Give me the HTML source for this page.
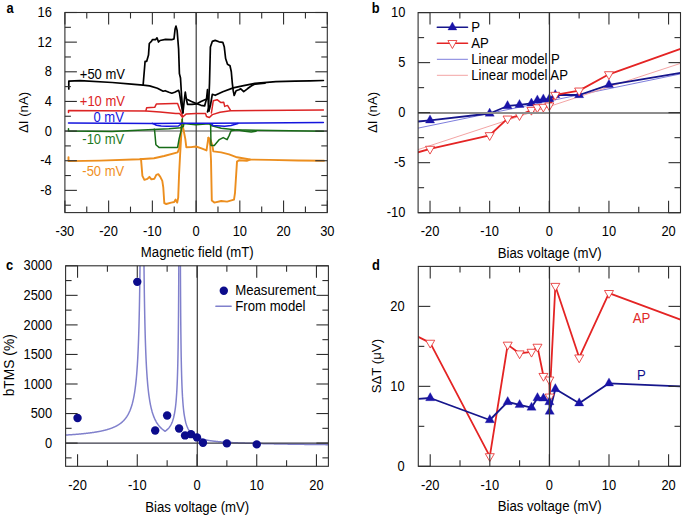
<!DOCTYPE html>
<html><head><meta charset="utf-8"><style>
html,body{margin:0;padding:0;background:#fff;}
svg{display:block;}
</style></head><body>
<svg width="685" height="518" viewBox="0 0 685 518" font-family='"Liberation Sans", sans-serif'>
<rect width="685" height="518" fill="#fff"/>
<defs>
<clipPath id="ca"><rect x="64.9" y="12.5" width="262.4" height="200.1"/></clipPath>
<clipPath id="cb"><rect x="418.1" y="12.6" width="262.4" height="200.1"/></clipPath>
<clipPath id="cc"><rect x="65.6" y="265.8" width="262.8" height="200.5"/></clipPath>
<clipPath id="cd"><rect x="418.3" y="266.4" width="262.2" height="199.9"/></clipPath>
</defs>
<line x1="64.9" y1="131" x2="327.3" y2="131" stroke="#8c8c8c" stroke-width="1.7"/>
<line x1="196.2" y1="12.5" x2="196.2" y2="212.6" stroke="#3a3a3a" stroke-width="1.2"/>
<g clip-path="url(#ca)">
<polyline points="68.5,157.1 68.5,161.1 100,160.6 139.4,159.3 154,158.3 164.1,156 177.6,152.3 179.1,148.6 180.5,138 182,119.6 183.4,129.3 185.3,138.9 186.3,147.2 191.1,147.1 196,146.5 201.5,148.4 206.5,150.4 208.4,137.6 210.4,139.6 212.4,145.5 213.3,151.4 221.2,152.4 229.1,154.3 237,157.3 250,159.5 269.3,159.9 298,160.5 324,160.8" fill="none" stroke="#ec8e1e" stroke-width="1.9" stroke-linejoin="round" stroke-linecap="round" />
<polyline points="141,158.9 142.4,175.8 144.4,179.8 147.4,178.8 149.4,176.8 151.4,179.4 154.3,178.8 156.3,174.8 158.3,174.2 160.3,176.8 162.3,180.8 163.3,187.7 164.3,203.2 166.2,204 171.2,202.6 174.2,202 175.6,199.6 177.2,202.6 178.2,197.6 179.1,173.8 180.1,155 181,140 182,119.6" fill="none" stroke="#ec8e1e" stroke-width="1.9" stroke-linejoin="round" stroke-linecap="round" />
<polyline points="208.4,137.6 210.2,145 211,160 211.8,200.6 214.3,202.6 221.2,201 227.1,201.6 234,199.7 235,192.8 237,161.6 239,160.2 246.8,160.8 250,159.6" fill="none" stroke="#ec8e1e" stroke-width="1.9" stroke-linejoin="round" stroke-linecap="round" />
<polyline points="68.5,128.8 68.5,131.1 112.2,131.4 153.1,129.6 168.9,128.8 180.5,127.8 183.4,126.4 183.8,123.6 195.6,124.8 209.4,123.8 211,125.5 221.2,128.3 235,129.7 256.9,130.3 290,130.8 323.4,131.2" fill="none" stroke="#176c17" stroke-width="1.5" stroke-linejoin="round" stroke-linecap="round" />
<polyline points="153.8,129.4 154.5,129.3 155.9,144.7 159.3,147.6 177.6,147.4 179.1,138.9 180,135.1 181.5,129.3 182.4,118.7" fill="none" stroke="#176c17" stroke-width="1.5" stroke-linejoin="round" stroke-linecap="round" />
<polyline points="210.6,123.8 210.8,133.6 211,145.5 214.3,145.5 219.3,139.6 223.2,137.6 227.1,139.6 229.1,135.6 231.1,130.7 237,129.7 244.9,131.3 251.2,132 256,131.2" fill="none" stroke="#176c17" stroke-width="1.5" stroke-linejoin="round" stroke-linecap="round" />
<polyline points="68.5,122.9 152.3,123.4 180,123.2 211,123.2 323.4,122.6" fill="none" stroke="#1515dd" stroke-width="1.5" stroke-linejoin="round" stroke-linecap="round" />
<polyline points="152.3,123.4 154.5,124.3 156.4,125.2 161.2,125.9 167,126.2 178.6,125.9 180.5,124.5" fill="none" stroke="#1515dd" stroke-width="1.5" stroke-linejoin="round" stroke-linecap="round" />
<polyline points="211.4,124 213,125.4 224.7,126.3 231,125.5 238,123.5" fill="none" stroke="#1515dd" stroke-width="1.5" stroke-linejoin="round" stroke-linecap="round" />
<polyline points="68.5,112.5 68.5,110.6 100,110.7 145.9,111 160,111.9 175.7,113.6 179.5,113.4 182.4,117.2 186.3,113.9 196,113.6 205.6,113.6 206.5,116.5 209.4,117.5 212.3,114.6 220,112.2 230.4,110.8 256.9,110.4 290,110.2 323.4,110" fill="none" stroke="#dc2424" stroke-width="1.5" stroke-linejoin="round" stroke-linecap="round" />
<polyline points="145.9,110.6 146.7,107.7 154.7,107.3 156.3,104.1 174,103.6 177.6,103.5 179.5,108.8 182.9,116.5" fill="none" stroke="#dc2424" stroke-width="1.5" stroke-linejoin="round" stroke-linecap="round" />
<polyline points="211.4,113 213.3,100.7 217.1,99.7 220.9,102.6 223.7,102.2 224.7,106.4 227.5,105.4 230.4,110.2" fill="none" stroke="#dc2424" stroke-width="1.5" stroke-linejoin="round" stroke-linecap="round" />
<polyline points="68.8,88.9 68.8,81.2 80.1,80.6 112.2,82.5 131.4,84.1 143.1,85.2 149.6,85.9 157.4,88.3 163.2,91.2 165.1,90.7 168.9,92.2 171.8,93.2 174.7,92.2 178.6,90.3 179.5,93.2 181.2,104 182.9,113.2 184.3,100.1 185.3,92.2 186.3,98.9 191.5,101.5 196.9,103.8 201,105.3 204.6,105.9 206.5,99.1 207.5,89.5 208.9,111.2 210.5,105 212.3,94.3 215.2,95.3 222.8,91.7 233.2,87.9 243.7,85.6 255,83.4 275.9,81.7 294.9,81.1 310,80.8 323.4,80.5" fill="none" stroke="#000000" stroke-width="1.7" stroke-linejoin="round" stroke-linecap="round" />
<polyline points="186.5,100 187.5,104.3 192,104.4 196.9,103.8 201,101.5 205.5,99.5" fill="none" stroke="#000000" stroke-width="1.7" stroke-linejoin="round" stroke-linecap="round" />
<polyline points="143.1,85.2 145.1,61.3 146.7,61.3 148.5,55.1 149.3,43.5 151.6,41.2 152.4,39.7 155.5,39.7 157,37.8 158.5,42 160.1,40.5 165.5,39.4 171.7,39.7 174,38.9 175.1,28.9 176,26.1 177.1,30.4 178.6,49 179.4,73.6 180.5,78 181.5,95 182.9,112.2" fill="none" stroke="#000000" stroke-width="1.7" stroke-linejoin="round" stroke-linecap="round" />
<polyline points="207.5,112 208.5,107.8 209.5,83.1 210.4,47.1 212.3,41.4 215.2,40.4 219,41.8 222.8,42.3 224.3,47.1 225.6,58.5 227.5,64.2 230,65.7 231.3,71.8 232.3,83.1 233.2,90.7 234.2,95.5 236.1,90.7 238.9,89.8 240.8,88.8 243.7,91.7 247.4,88.8 251.2,86 255,84.1 265,83.2" fill="none" stroke="#000000" stroke-width="1.7" stroke-linejoin="round" stroke-linecap="round" />
</g>
<line x1="64.9" y1="212.6" x2="64.9" y2="200.6" stroke="#2e2e2e" stroke-width="1.1"/>
<line x1="64.9" y1="12.5" x2="64.9" y2="24.5" stroke="#2e2e2e" stroke-width="1.1"/>
<line x1="108.63" y1="212.6" x2="108.63" y2="200.6" stroke="#2e2e2e" stroke-width="1.1"/>
<line x1="108.63" y1="12.5" x2="108.63" y2="24.5" stroke="#2e2e2e" stroke-width="1.1"/>
<line x1="152.37" y1="212.6" x2="152.37" y2="200.6" stroke="#2e2e2e" stroke-width="1.1"/>
<line x1="152.37" y1="12.5" x2="152.37" y2="24.5" stroke="#2e2e2e" stroke-width="1.1"/>
<line x1="196.1" y1="212.6" x2="196.1" y2="200.6" stroke="#2e2e2e" stroke-width="1.1"/>
<line x1="196.1" y1="12.5" x2="196.1" y2="24.5" stroke="#2e2e2e" stroke-width="1.1"/>
<line x1="239.83" y1="212.6" x2="239.83" y2="200.6" stroke="#2e2e2e" stroke-width="1.1"/>
<line x1="239.83" y1="12.5" x2="239.83" y2="24.5" stroke="#2e2e2e" stroke-width="1.1"/>
<line x1="283.57" y1="212.6" x2="283.57" y2="200.6" stroke="#2e2e2e" stroke-width="1.1"/>
<line x1="283.57" y1="12.5" x2="283.57" y2="24.5" stroke="#2e2e2e" stroke-width="1.1"/>
<line x1="327.3" y1="212.6" x2="327.3" y2="200.6" stroke="#2e2e2e" stroke-width="1.1"/>
<line x1="327.3" y1="12.5" x2="327.3" y2="24.5" stroke="#2e2e2e" stroke-width="1.1"/>
<line x1="86.77" y1="212.6" x2="86.77" y2="206.6" stroke="#2e2e2e" stroke-width="1.1"/>
<line x1="86.77" y1="12.5" x2="86.77" y2="18.5" stroke="#2e2e2e" stroke-width="1.1"/>
<line x1="130.5" y1="212.6" x2="130.5" y2="206.6" stroke="#2e2e2e" stroke-width="1.1"/>
<line x1="130.5" y1="12.5" x2="130.5" y2="18.5" stroke="#2e2e2e" stroke-width="1.1"/>
<line x1="174.23" y1="212.6" x2="174.23" y2="206.6" stroke="#2e2e2e" stroke-width="1.1"/>
<line x1="174.23" y1="12.5" x2="174.23" y2="18.5" stroke="#2e2e2e" stroke-width="1.1"/>
<line x1="217.97" y1="212.6" x2="217.97" y2="206.6" stroke="#2e2e2e" stroke-width="1.1"/>
<line x1="217.97" y1="12.5" x2="217.97" y2="18.5" stroke="#2e2e2e" stroke-width="1.1"/>
<line x1="261.7" y1="212.6" x2="261.7" y2="206.6" stroke="#2e2e2e" stroke-width="1.1"/>
<line x1="261.7" y1="12.5" x2="261.7" y2="18.5" stroke="#2e2e2e" stroke-width="1.1"/>
<line x1="305.43" y1="212.6" x2="305.43" y2="206.6" stroke="#2e2e2e" stroke-width="1.1"/>
<line x1="305.43" y1="12.5" x2="305.43" y2="18.5" stroke="#2e2e2e" stroke-width="1.1"/>
<line x1="64.9" y1="190.37" x2="76.9" y2="190.37" stroke="#2e2e2e" stroke-width="1.1"/>
<line x1="327.3" y1="190.37" x2="315.3" y2="190.37" stroke="#2e2e2e" stroke-width="1.1"/>
<line x1="64.9" y1="160.72" x2="76.9" y2="160.72" stroke="#2e2e2e" stroke-width="1.1"/>
<line x1="327.3" y1="160.72" x2="315.3" y2="160.72" stroke="#2e2e2e" stroke-width="1.1"/>
<line x1="64.9" y1="131.08" x2="76.9" y2="131.08" stroke="#2e2e2e" stroke-width="1.1"/>
<line x1="327.3" y1="131.08" x2="315.3" y2="131.08" stroke="#2e2e2e" stroke-width="1.1"/>
<line x1="64.9" y1="101.43" x2="76.9" y2="101.43" stroke="#2e2e2e" stroke-width="1.1"/>
<line x1="327.3" y1="101.43" x2="315.3" y2="101.43" stroke="#2e2e2e" stroke-width="1.1"/>
<line x1="64.9" y1="71.79" x2="76.9" y2="71.79" stroke="#2e2e2e" stroke-width="1.1"/>
<line x1="327.3" y1="71.79" x2="315.3" y2="71.79" stroke="#2e2e2e" stroke-width="1.1"/>
<line x1="64.9" y1="42.14" x2="76.9" y2="42.14" stroke="#2e2e2e" stroke-width="1.1"/>
<line x1="327.3" y1="42.14" x2="315.3" y2="42.14" stroke="#2e2e2e" stroke-width="1.1"/>
<line x1="64.9" y1="12.5" x2="76.9" y2="12.5" stroke="#2e2e2e" stroke-width="1.1"/>
<line x1="327.3" y1="12.5" x2="315.3" y2="12.5" stroke="#2e2e2e" stroke-width="1.1"/>
<line x1="64.9" y1="205.19" x2="70.9" y2="205.19" stroke="#2e2e2e" stroke-width="1.1"/>
<line x1="327.3" y1="205.19" x2="321.3" y2="205.19" stroke="#2e2e2e" stroke-width="1.1"/>
<line x1="64.9" y1="175.54" x2="70.9" y2="175.54" stroke="#2e2e2e" stroke-width="1.1"/>
<line x1="327.3" y1="175.54" x2="321.3" y2="175.54" stroke="#2e2e2e" stroke-width="1.1"/>
<line x1="64.9" y1="145.9" x2="70.9" y2="145.9" stroke="#2e2e2e" stroke-width="1.1"/>
<line x1="327.3" y1="145.9" x2="321.3" y2="145.9" stroke="#2e2e2e" stroke-width="1.1"/>
<line x1="64.9" y1="116.26" x2="70.9" y2="116.26" stroke="#2e2e2e" stroke-width="1.1"/>
<line x1="327.3" y1="116.26" x2="321.3" y2="116.26" stroke="#2e2e2e" stroke-width="1.1"/>
<line x1="64.9" y1="86.61" x2="70.9" y2="86.61" stroke="#2e2e2e" stroke-width="1.1"/>
<line x1="327.3" y1="86.61" x2="321.3" y2="86.61" stroke="#2e2e2e" stroke-width="1.1"/>
<line x1="64.9" y1="56.97" x2="70.9" y2="56.97" stroke="#2e2e2e" stroke-width="1.1"/>
<line x1="327.3" y1="56.97" x2="321.3" y2="56.97" stroke="#2e2e2e" stroke-width="1.1"/>
<line x1="64.9" y1="27.32" x2="70.9" y2="27.32" stroke="#2e2e2e" stroke-width="1.1"/>
<line x1="327.3" y1="27.32" x2="321.3" y2="27.32" stroke="#2e2e2e" stroke-width="1.1"/>
<rect x="64.9" y="12.5" width="262.4" height="200.1" fill="none" stroke="#2e2e2e" stroke-width="1.1"/>
<text transform="translate(64.9 236.3) scale(1 1.07)" font-size="12.9" text-anchor="middle" fill="#000" font-weight="normal">-30</text>
<text transform="translate(108.63 236.3) scale(1 1.07)" font-size="12.9" text-anchor="middle" fill="#000" font-weight="normal">-20</text>
<text transform="translate(152.37 236.3) scale(1 1.07)" font-size="12.9" text-anchor="middle" fill="#000" font-weight="normal">-10</text>
<text transform="translate(196.1 236.3) scale(1 1.07)" font-size="12.9" text-anchor="middle" fill="#000" font-weight="normal">0</text>
<text transform="translate(239.83 236.3) scale(1 1.07)" font-size="12.9" text-anchor="middle" fill="#000" font-weight="normal">10</text>
<text transform="translate(283.57 236.3) scale(1 1.07)" font-size="12.9" text-anchor="middle" fill="#000" font-weight="normal">20</text>
<text transform="translate(327.3 236.3) scale(1 1.07)" font-size="12.9" text-anchor="middle" fill="#000" font-weight="normal">30</text>
<text transform="translate(51.8 194.97) scale(1 1.07)" font-size="12.9" text-anchor="end" fill="#000" font-weight="normal">-8</text>
<text transform="translate(51.8 165.32) scale(1 1.07)" font-size="12.9" text-anchor="end" fill="#000" font-weight="normal">-4</text>
<text transform="translate(51.8 135.68) scale(1 1.07)" font-size="12.9" text-anchor="end" fill="#000" font-weight="normal">0</text>
<text transform="translate(51.8 106.03) scale(1 1.07)" font-size="12.9" text-anchor="end" fill="#000" font-weight="normal">4</text>
<text transform="translate(51.8 76.39) scale(1 1.07)" font-size="12.9" text-anchor="end" fill="#000" font-weight="normal">8</text>
<text transform="translate(51.8 46.74) scale(1 1.07)" font-size="12.9" text-anchor="end" fill="#000" font-weight="normal">12</text>
<text transform="translate(51.8 17.1) scale(1 1.07)" font-size="12.9" text-anchor="end" fill="#000" font-weight="normal">16</text>
<text transform="translate(197.3 256.8) scale(1 1.07)" font-size="13.2" text-anchor="middle" fill="#000" font-weight="normal">Magnetic field (mT)</text>
<text x="28.3" y="112.4" font-size="13.2" text-anchor="middle" fill="#000" font-weight="normal" transform="rotate(-90 28.3 112.4)">ΔI (nA)</text>
<text transform="translate(79.8 79) scale(1 1.07)" font-size="13.0" text-anchor="start" fill="#000" font-weight="normal">+50 mV</text>
<text transform="translate(79.8 105.6) scale(1 1.07)" font-size="13.0" text-anchor="start" fill="#dc2424" font-weight="normal">+10 mV</text>
<text transform="translate(93.5 121.8) scale(1 1.07)" font-size="13.0" text-anchor="start" fill="#1515dd" font-weight="normal">0 mV</text>
<text transform="translate(82.3 143.9) scale(1 1.07)" font-size="13.0" text-anchor="start" fill="#1e7a1e" font-weight="normal">-10 mV</text>
<text transform="translate(82.3 175.8) scale(1 1.07)" font-size="13.0" text-anchor="start" fill="#f0901e" font-weight="normal">-50 mV</text>
<text transform="translate(6.5 13) scale(1 1.11)" font-size="12.9" text-anchor="start" fill="#000" font-weight="bold">a</text>
<g clip-path="url(#cb)">
<polyline points="412.14,129.35 686.46,72.7" fill="none" stroke="#6e6ed8" stroke-width="0.9" stroke-linejoin="round" stroke-linecap="round" />
<polyline points="412.14,151.53 686.46,61.42" fill="none" stroke="#f29a9a" stroke-width="0.9" stroke-linejoin="round" stroke-linecap="round" />
<polyline points="418.1,121.5 430.03,120.3 489.66,113.5 507.55,106 519.48,104.8 531.41,103.4 537.37,100.29 543.34,99.29 549.3,99.09 555.26,94.99 579.12,94.99 608.94,84.79 680.5,72.83" fill="none" stroke="#16168c" stroke-width="1.8" stroke-linejoin="round" stroke-linecap="round" />
<polyline points="418.1,152.27 430.03,148.87 489.66,135.26 507.55,118.65 519.48,115.25 531.41,109.95 537.37,107.35 543.34,106.85 549.3,105.55 555.26,94.94 579.12,90.64 608.94,74.33 680.5,48.92" fill="none" stroke="#e42424" stroke-width="1.8" stroke-linejoin="round" stroke-linecap="round" />
<polygon points="425.43,123 434.63,123 430.03,114.9" fill="#1a14a8" stroke="#1a14a8" stroke-width="0.3"/>
<polygon points="485.06,116.2 494.26,116.2 489.66,108.1" fill="#1a14a8" stroke="#1a14a8" stroke-width="0.3"/>
<polygon points="502.95,108.7 512.15,108.7 507.55,100.6" fill="#1a14a8" stroke="#1a14a8" stroke-width="0.3"/>
<polygon points="514.88,107.5 524.08,107.5 519.48,99.4" fill="#1a14a8" stroke="#1a14a8" stroke-width="0.3"/>
<polygon points="526.81,106.1 536.01,106.1 531.41,98" fill="#1a14a8" stroke="#1a14a8" stroke-width="0.3"/>
<polygon points="532.77,102.99 541.97,102.99 537.37,94.89" fill="#1a14a8" stroke="#1a14a8" stroke-width="0.3"/>
<polygon points="538.74,101.99 547.94,101.99 543.34,93.89" fill="#1a14a8" stroke="#1a14a8" stroke-width="0.3"/>
<polygon points="544.7,101.79 553.9,101.79 549.3,93.69" fill="#1a14a8" stroke="#1a14a8" stroke-width="0.3"/>
<polygon points="550.66,97.69 559.86,97.69 555.26,89.59" fill="#1a14a8" stroke="#1a14a8" stroke-width="0.3"/>
<polygon points="574.52,97.69 583.72,97.69 579.12,89.59" fill="#1a14a8" stroke="#1a14a8" stroke-width="0.3"/>
<polygon points="604.34,87.49 613.54,87.49 608.94,79.39" fill="#1a14a8" stroke="#1a14a8" stroke-width="0.3"/>
<polygon points="425.53,146.27 434.53,146.27 430.03,154.07" fill="#fff" stroke="#e42424" stroke-width="0.8"/>
<polygon points="485.16,132.66 494.16,132.66 489.66,140.46" fill="#fff" stroke="#e42424" stroke-width="0.8"/>
<polygon points="503.05,116.05 512.05,116.05 507.55,123.85" fill="#fff" stroke="#e42424" stroke-width="0.8"/>
<polygon points="514.98,112.65 523.98,112.65 519.48,120.45" fill="#fff" stroke="#e42424" stroke-width="0.8"/>
<polygon points="526.91,107.35 535.91,107.35 531.41,115.15" fill="#fff" stroke="#e42424" stroke-width="0.8"/>
<polygon points="532.87,104.75 541.87,104.75 537.37,112.55" fill="#fff" stroke="#e42424" stroke-width="0.8"/>
<polygon points="538.84,104.25 547.84,104.25 543.34,112.05" fill="#fff" stroke="#e42424" stroke-width="0.8"/>
<polygon points="544.8,102.95 553.8,102.95 549.3,110.75" fill="#fff" stroke="#e42424" stroke-width="0.8"/>
<polygon points="550.76,92.34 559.76,92.34 555.26,100.14" fill="#fff" stroke="#e42424" stroke-width="0.8"/>
<polygon points="574.62,88.04 583.62,88.04 579.12,95.84" fill="#fff" stroke="#e42424" stroke-width="0.8"/>
<polygon points="604.44,71.73 613.44,71.73 608.94,79.53" fill="#fff" stroke="#e42424" stroke-width="0.8"/>
</g>
<line x1="418.1" y1="113" x2="680.5" y2="113" stroke="#8c8c8c" stroke-width="1.8"/>
<line x1="549.5" y1="12.6" x2="549.5" y2="212.7" stroke="#3a3a3a" stroke-width="1.2"/>
<line x1="430.03" y1="212.7" x2="430.03" y2="200.7" stroke="#2e2e2e" stroke-width="1.1"/>
<line x1="430.03" y1="12.6" x2="430.03" y2="24.6" stroke="#2e2e2e" stroke-width="1.1"/>
<line x1="489.66" y1="212.7" x2="489.66" y2="200.7" stroke="#2e2e2e" stroke-width="1.1"/>
<line x1="489.66" y1="12.6" x2="489.66" y2="24.6" stroke="#2e2e2e" stroke-width="1.1"/>
<line x1="549.3" y1="212.7" x2="549.3" y2="200.7" stroke="#2e2e2e" stroke-width="1.1"/>
<line x1="549.3" y1="12.6" x2="549.3" y2="24.6" stroke="#2e2e2e" stroke-width="1.1"/>
<line x1="608.94" y1="212.7" x2="608.94" y2="200.7" stroke="#2e2e2e" stroke-width="1.1"/>
<line x1="608.94" y1="12.6" x2="608.94" y2="24.6" stroke="#2e2e2e" stroke-width="1.1"/>
<line x1="668.57" y1="212.7" x2="668.57" y2="200.7" stroke="#2e2e2e" stroke-width="1.1"/>
<line x1="668.57" y1="12.6" x2="668.57" y2="24.6" stroke="#2e2e2e" stroke-width="1.1"/>
<line x1="459.85" y1="212.7" x2="459.85" y2="206.7" stroke="#2e2e2e" stroke-width="1.1"/>
<line x1="459.85" y1="12.6" x2="459.85" y2="18.6" stroke="#2e2e2e" stroke-width="1.1"/>
<line x1="519.48" y1="212.7" x2="519.48" y2="206.7" stroke="#2e2e2e" stroke-width="1.1"/>
<line x1="519.48" y1="12.6" x2="519.48" y2="18.6" stroke="#2e2e2e" stroke-width="1.1"/>
<line x1="579.12" y1="212.7" x2="579.12" y2="206.7" stroke="#2e2e2e" stroke-width="1.1"/>
<line x1="579.12" y1="12.6" x2="579.12" y2="18.6" stroke="#2e2e2e" stroke-width="1.1"/>
<line x1="638.75" y1="212.7" x2="638.75" y2="206.7" stroke="#2e2e2e" stroke-width="1.1"/>
<line x1="638.75" y1="12.6" x2="638.75" y2="18.6" stroke="#2e2e2e" stroke-width="1.1"/>
<line x1="418.1" y1="212.7" x2="430.1" y2="212.7" stroke="#2e2e2e" stroke-width="1.1"/>
<line x1="680.5" y1="212.7" x2="668.5" y2="212.7" stroke="#2e2e2e" stroke-width="1.1"/>
<line x1="418.1" y1="162.67" x2="430.1" y2="162.67" stroke="#2e2e2e" stroke-width="1.1"/>
<line x1="680.5" y1="162.67" x2="668.5" y2="162.67" stroke="#2e2e2e" stroke-width="1.1"/>
<line x1="418.1" y1="112.65" x2="430.1" y2="112.65" stroke="#2e2e2e" stroke-width="1.1"/>
<line x1="680.5" y1="112.65" x2="668.5" y2="112.65" stroke="#2e2e2e" stroke-width="1.1"/>
<line x1="418.1" y1="62.62" x2="430.1" y2="62.62" stroke="#2e2e2e" stroke-width="1.1"/>
<line x1="680.5" y1="62.62" x2="668.5" y2="62.62" stroke="#2e2e2e" stroke-width="1.1"/>
<line x1="418.1" y1="12.6" x2="430.1" y2="12.6" stroke="#2e2e2e" stroke-width="1.1"/>
<line x1="680.5" y1="12.6" x2="668.5" y2="12.6" stroke="#2e2e2e" stroke-width="1.1"/>
<line x1="418.1" y1="187.69" x2="424.1" y2="187.69" stroke="#2e2e2e" stroke-width="1.1"/>
<line x1="680.5" y1="187.69" x2="674.5" y2="187.69" stroke="#2e2e2e" stroke-width="1.1"/>
<line x1="418.1" y1="137.66" x2="424.1" y2="137.66" stroke="#2e2e2e" stroke-width="1.1"/>
<line x1="680.5" y1="137.66" x2="674.5" y2="137.66" stroke="#2e2e2e" stroke-width="1.1"/>
<line x1="418.1" y1="87.64" x2="424.1" y2="87.64" stroke="#2e2e2e" stroke-width="1.1"/>
<line x1="680.5" y1="87.64" x2="674.5" y2="87.64" stroke="#2e2e2e" stroke-width="1.1"/>
<line x1="418.1" y1="37.61" x2="424.1" y2="37.61" stroke="#2e2e2e" stroke-width="1.1"/>
<line x1="680.5" y1="37.61" x2="674.5" y2="37.61" stroke="#2e2e2e" stroke-width="1.1"/>
<rect x="418.1" y="12.6" width="262.4" height="200.1" fill="none" stroke="#2e2e2e" stroke-width="1.1"/>
<text transform="translate(430.03 236.3) scale(1 1.07)" font-size="12.9" text-anchor="middle" fill="#000" font-weight="normal">-20</text>
<text transform="translate(489.66 236.3) scale(1 1.07)" font-size="12.9" text-anchor="middle" fill="#000" font-weight="normal">-10</text>
<text transform="translate(549.3 236.3) scale(1 1.07)" font-size="12.9" text-anchor="middle" fill="#000" font-weight="normal">0</text>
<text transform="translate(608.94 236.3) scale(1 1.07)" font-size="12.9" text-anchor="middle" fill="#000" font-weight="normal">10</text>
<text transform="translate(668.57 236.3) scale(1 1.07)" font-size="12.9" text-anchor="middle" fill="#000" font-weight="normal">20</text>
<text transform="translate(405.4 217.3) scale(1 1.07)" font-size="12.9" text-anchor="end" fill="#000" font-weight="normal">-10</text>
<text transform="translate(405.4 167.27) scale(1 1.07)" font-size="12.9" text-anchor="end" fill="#000" font-weight="normal">-5</text>
<text transform="translate(405.4 117.25) scale(1 1.07)" font-size="12.9" text-anchor="end" fill="#000" font-weight="normal">0</text>
<text transform="translate(405.4 67.22) scale(1 1.07)" font-size="12.9" text-anchor="end" fill="#000" font-weight="normal">5</text>
<text transform="translate(405.4 17.2) scale(1 1.07)" font-size="12.9" text-anchor="end" fill="#000" font-weight="normal">10</text>
<text transform="translate(549.7 257.7) scale(1 1.07)" font-size="13.2" text-anchor="middle" fill="#000" font-weight="normal">Bias voltage (mV)</text>
<text x="376.7" y="112.4" font-size="13.2" text-anchor="middle" fill="#000" font-weight="normal" transform="rotate(-90 376.7 112.4)">ΔI (nA)</text>
<text transform="translate(371.8 13) scale(1 1.11)" font-size="12.9" text-anchor="start" fill="#000" font-weight="bold">b</text>
<polyline points="437.3,27.3 467.5,27.3" fill="none" stroke="#16168c" stroke-width="1.6" stroke-linejoin="round" stroke-linecap="round" />
<polygon points="447.9,29.97 456.9,29.97 452.4,21.97" fill="#1a14a8" stroke="#1a14a8" stroke-width="0.3"/>
<polyline points="437.3,43.3 467.5,43.3" fill="none" stroke="#e42424" stroke-width="1.6" stroke-linejoin="round" stroke-linecap="round" />
<polygon points="447.9,40.53 456.9,40.53 452.4,48.53" fill="#fff" stroke="#e42424" stroke-width="0.8"/>
<polyline points="437.3,59.3 467.5,59.3" fill="none" stroke="#6e6ed8" stroke-width="0.9" stroke-linejoin="round" stroke-linecap="round" />
<polyline points="437.3,75.3 467.5,75.3" fill="none" stroke="#f29a9a" stroke-width="0.9" stroke-linejoin="round" stroke-linecap="round" />
<text transform="translate(471.2 31.8) scale(1 1.07)" font-size="13.2" text-anchor="start" fill="#000" font-weight="normal">P</text>
<text transform="translate(471.2 47.8) scale(1 1.07)" font-size="13.2" text-anchor="start" fill="#000" font-weight="normal">AP</text>
<text transform="translate(471.2 63.8) scale(1 1.07)" font-size="13.2" text-anchor="start" fill="#000" font-weight="normal">Linear model P</text>
<text transform="translate(471.2 79.8) scale(1 1.07)" font-size="13.2" text-anchor="start" fill="#000" font-weight="normal">Linear model AP</text>
<line x1="197.3" y1="265.8" x2="197.3" y2="466.3" stroke="#3a3a3a" stroke-width="1.2"/>
<g clip-path="url(#cc)">
<polyline points="62.61,435.23 62.91,435.22 63.21,435.2 63.51,435.18 63.81,435.16 64.11,435.15 64.41,435.13 64.7,435.11 65,435.09 65.3,435.08 65.6,435.06 65.9,435.04 66.2,435.02 66.5,435 66.79,434.99 67.09,434.97 67.39,434.95 67.69,434.93 67.99,434.91 68.29,434.89 68.59,434.87 68.89,434.85 69.18,434.83 69.48,434.81 69.78,434.79 70.08,434.77 70.38,434.75 70.68,434.73 70.98,434.71 71.27,434.69 71.57,434.67 71.87,434.65 72.17,434.63 72.47,434.61 72.77,434.58 73.07,434.56 73.36,434.54 73.66,434.52 73.96,434.49 74.26,434.47 74.56,434.45 74.86,434.43 75.16,434.4 75.46,434.38 75.75,434.36 76.05,434.33 76.35,434.31 76.65,434.28 76.95,434.26 77.25,434.23 77.55,434.21 77.84,434.18 78.14,434.16 78.44,434.13 78.74,434.11 79.04,434.08 79.34,434.05 79.64,434.03 79.93,434 80.23,433.97 80.53,433.94 80.83,433.92 81.13,433.89 81.43,433.86 81.73,433.83 82.03,433.8 82.32,433.77 82.62,433.74 82.92,433.71 83.22,433.68 83.52,433.65 83.82,433.62 84.12,433.59 84.41,433.56 84.71,433.53 85.01,433.5 85.31,433.46 85.61,433.43 85.91,433.4 86.21,433.36 86.5,433.33 86.8,433.3 87.1,433.26 87.4,433.23 87.7,433.19 88,433.15 88.3,433.12 88.6,433.08 88.89,433.05 89.19,433.01 89.49,432.97 89.79,432.93 90.09,432.89 90.39,432.85 90.69,432.81 90.98,432.77 91.28,432.73 91.58,432.69 91.88,432.65 92.18,432.61 92.48,432.57 92.78,432.52 93.07,432.48 93.37,432.44 93.67,432.39 93.97,432.35 94.27,432.3 94.57,432.26 94.87,432.21 95.17,432.16 95.46,432.11 95.76,432.06 96.06,432.02 96.36,431.97 96.66,431.91 96.96,431.86 97.26,431.81 97.55,431.76 97.85,431.71 98.15,431.65 98.45,431.6 98.75,431.54 99.05,431.48 99.35,431.43 99.64,431.37 99.94,431.31 100.24,431.25 100.54,431.19 100.84,431.13 101.14,431.07 101.44,431 101.74,430.94 102.03,430.87 102.33,430.81 102.63,430.74 102.93,430.67 103.23,430.6 103.53,430.53 103.83,430.46 104.12,430.39 104.42,430.32 104.72,430.24 105.02,430.17 105.32,430.09 105.62,430.01 105.92,429.93 106.21,429.85 106.51,429.77 106.81,429.68 107.11,429.6 107.41,429.51 107.71,429.42 108.01,429.33 108.31,429.24 108.6,429.15 108.9,429.06 109.2,428.96 109.5,428.86 109.8,428.76 110.1,428.66 110.4,428.56 110.69,428.45 110.99,428.34 111.29,428.23 111.59,428.12 111.89,428.01 112.19,427.89 112.49,427.77 112.78,427.65 113.08,427.53 113.38,427.4 113.68,427.27 113.98,427.14 114.28,427 114.58,426.87 114.88,426.73 115.17,426.58 115.47,426.44 115.77,426.29 116.07,426.13 116.37,425.97 116.67,425.81 116.97,425.65 117.26,425.48 117.56,425.31 117.86,425.13 118.16,424.95 118.46,424.76 118.76,424.57 119.06,424.38 119.35,424.17 119.65,423.97 119.95,423.76 120.25,423.54 120.55,423.31 120.85,423.08 121.15,422.85 121.45,422.6 121.74,422.35 122.04,422.09 122.34,421.83 122.64,421.55 122.94,421.27 123.24,420.98 123.54,420.68 123.83,420.37 124.13,420.05 124.43,419.71 124.73,419.37 125.03,419.01 125.33,418.65 125.63,418.26 125.92,417.87 126.22,417.46 126.52,417.03 126.82,416.59 127.12,416.12 127.42,415.64 127.72,415.14 128.02,414.62 128.31,414.08 128.61,413.51 128.91,412.92 129.21,412.29 129.51,411.64 129.81,410.96 130.11,410.24 130.4,409.49 130.7,408.69 131,407.86 131.3,406.97 131.6,406.04 131.9,405.05 132.2,404 132.49,402.89 132.79,401.7 133.09,400.44 133.39,399.08 133.69,397.64 133.99,396.08 134.29,394.4 134.59,392.59 134.88,390.63 135.18,388.5 135.48,386.18 135.78,383.63 136.08,380.83 136.38,377.73 136.68,374.29 136.97,370.45 137.27,366.12 137.3,365.75 137.32,365.38 137.34,365 137.37,364.62 137.39,364.24 137.42,363.85 137.44,363.45 137.46,363.06 137.49,362.66 137.51,362.25 137.54,361.84 137.56,361.43 137.58,361.01 137.61,360.59 137.63,360.16 137.65,359.73 137.68,359.29 137.7,358.85 137.73,358.4 137.75,357.95 137.77,357.49 137.8,357.03 137.82,356.57 137.85,356.09 137.87,355.62 137.89,355.13 137.92,354.65 137.94,354.15 137.97,353.65 137.99,353.14 138.01,352.63 138.04,352.12 138.06,351.59 138.09,351.06 138.11,350.52 138.13,349.98 138.16,349.43 138.18,348.87 138.2,348.31 138.23,347.74 138.25,347.16 138.28,346.57 138.3,345.98 138.32,345.38 138.35,344.77 138.37,344.16 138.4,343.53 138.42,342.9 138.44,342.26 138.47,341.61 138.49,340.95 138.52,340.29 138.54,339.61 138.56,338.92 138.59,338.23 138.61,337.53 138.63,336.81 138.66,336.09 138.68,335.35 138.71,334.61 138.73,333.85 138.75,333.08 138.78,332.31 138.8,331.52 138.83,330.72 138.85,329.9 138.87,329.08 138.9,328.24 138.92,327.39 138.95,326.53 138.97,325.65 138.99,324.76 139.02,323.85 139.04,322.94 139.06,322 139.09,321.05 139.11,320.09 139.14,319.11 139.16,318.11 139.18,317.1 139.21,316.07 139.23,315.02 139.26,313.96 139.28,312.87 139.3,311.77 139.33,310.65 139.35,309.51 139.38,308.35 139.4,307.16 139.42,305.96 139.45,304.73 139.47,303.48 139.49,302.21 139.52,300.91 139.54,299.59 139.57,298.24 139.59,296.87 139.61,295.47 139.64,294.04 139.66,292.59 139.69,291.1 139.71,289.59 139.73,288.04 139.76,286.46 139.78,284.85 139.81,283.2 139.83,281.52 139.85,279.8 139.88,278.04 139.9,276.25 139.92,274.41 139.95,272.53 139.97,270.61 140,268.65 140.02,266.63 140.04,264.58 140.07,262.47 140.09,260.3 140.12,258.09 140.14,255.82 140.16,253.49 140.19,251.11 140.21,248.66 140.24,246.15 140.26,243.57 140.28,240.92 140.31,238.19 140.33,235.39 140.35,232.52 140.38,229.56 140.4,226.51 140.43,223.38 140.45,220.15 140.47,216.83 140.5,213.4 140.52,209.86 140.55,206.7" fill="none" stroke="#8080cc" stroke-width="1.5" stroke-linejoin="round" stroke-linecap="round" />
<polyline points="143.53,206.7 143.53,209.33 143.56,213.1 143.58,216.75 143.6,220.28 143.63,223.71 143.65,227.04 143.68,230.26 143.7,233.4 143.72,236.44 143.75,239.4 143.77,242.28 143.79,245.08 143.82,247.8 143.84,250.45 143.87,253.03 143.89,255.54 143.91,257.99 143.94,260.38 143.96,262.71 143.99,264.98 144.01,267.19 144.03,269.35 144.06,271.46 144.08,273.52 144.11,275.53 144.13,277.5 144.15,279.42 144.18,281.3 144.2,283.13 144.22,284.93 144.25,286.68 144.27,288.4 144.3,290.09 144.32,291.73 144.34,293.35 144.37,294.92 144.39,296.47 144.42,297.99 144.44,299.47 144.46,300.93 144.49,302.36 144.51,303.76 144.54,305.13 144.56,306.48 144.58,307.8 144.61,309.09 144.63,310.37 144.66,311.62 144.68,312.84 144.7,314.05 144.73,315.23 144.75,316.39 144.77,317.53 144.8,318.66 144.82,319.76 144.85,320.84 144.87,321.91 144.89,322.95 144.92,323.98 144.94,325 144.97,325.99 144.99,326.97 145.01,327.94 145.04,328.89 145.06,329.82 145.09,330.74 145.11,331.64 145.13,332.53 145.16,333.41 145.18,334.28 145.2,335.13 145.23,335.96 145.25,336.79 145.28,337.6 145.3,338.4 145.32,339.19 145.35,339.97 145.37,340.74 145.4,341.49 145.42,342.24 145.44,342.97 145.47,343.7 145.49,344.41 145.52,345.11 145.54,345.81 145.56,346.49 145.59,347.17 145.61,347.84 145.63,348.5 145.66,349.14 145.68,349.79 145.71,350.42 145.73,351.04 145.75,351.66 145.78,352.27 145.8,352.87 145.83,353.46 145.85,354.05 145.87,354.62 145.9,355.19 145.92,355.76 145.95,356.31 145.97,356.86 145.99,357.41 146.02,357.95 146.04,358.48 146.06,359 146.09,359.52 146.11,360.03 146.14,360.54 146.16,361.04 146.18,361.53 146.21,362.02 146.23,362.5 146.26,362.98 146.28,363.45 146.3,363.92 146.33,364.38 146.35,364.84 146.38,365.29 146.4,365.73 146.42,366.18 146.45,366.61 146.47,367.04 146.49,367.47 146.52,367.89 146.54,368.31 146.57,368.73 146.59,369.14 146.61,369.54 146.64,369.94 146.66,370.34 146.69,370.73 146.71,371.12 146.73,371.51 146.76,371.89 146.78,372.26 146.81,372.64 146.83,373.01 147.13,377.33 147.43,381.18 147.72,384.62 148.02,387.71 148.32,390.51 148.62,393.06 148.92,395.39 149.22,397.52 149.52,399.48 149.82,401.29 150.11,402.96 150.41,404.52 150.71,405.97 151.01,407.32 151.31,408.59 151.61,409.77 151.91,410.89 152.2,411.94 152.5,412.92 152.8,413.86 153.1,414.74 153.4,415.58 153.7,416.37 154,417.13 154.3,417.84 154.59,418.53 154.89,419.18 155.19,419.8 155.49,420.39 155.79,420.96 156.09,421.51 156.39,422.03 156.68,422.53 156.98,423.01 157.28,423.47 157.58,423.91 157.88,424.34 158.18,424.75 158.48,425.15 158.77,425.53 159.07,425.9 159.37,426.26 159.67,426.6 159.97,426.93 160.27,427.25 160.57,427.56 160.86,427.86 161.16,428.16 161.46,428.44 161.76,428.71 162.06,428.98 162.36,429.24 162.66,429.49 162.96,429.73 163.25,429.97 163.55,430.2 163.85,430.42 164.15,430.64 164.45,430.85 164.75,431.06 165.05,431.26 165.34,431.09 165.64,430.88 165.94,430.66 166.24,430.44 166.54,430.2 166.84,429.95 167.14,429.68 167.43,429.41 167.73,429.12 168.03,428.81 168.33,428.49 168.63,428.16 168.93,427.8 169.23,427.42 169.53,427.02 169.82,426.6 170.12,426.15 170.42,425.67 170.72,425.16 171.02,424.61 171.32,424.02 171.62,423.39 171.91,422.71 172.21,421.98 172.51,421.18 172.81,420.32 173.11,419.37 173.41,418.34 173.71,417.19 174,415.93 174.3,414.53 174.6,412.96 174.9,411.19 175.2,409.18 175.5,406.88 175.8,404.22 176.1,401.11 176.39,397.42 176.69,392.98 176.72,392.59 176.74,392.19 176.76,391.78 176.79,391.36 176.81,390.94 176.84,390.51 176.86,390.08 176.88,389.63 176.91,389.18 176.93,388.72 176.96,388.25 176.98,387.78 177,387.29 177.03,386.8 177.05,386.29 177.07,385.78 177.1,385.26 177.12,384.73 177.15,384.18 177.17,383.63 177.19,383.06 177.22,382.49 177.24,381.9 177.27,381.3 177.29,380.69 177.31,380.07 177.34,379.43 177.36,378.78 177.39,378.11 177.41,377.43 177.43,376.74 177.46,376.03 177.48,375.31 177.51,374.57 177.53,373.81 177.55,373.03 177.58,372.24 177.6,371.42 177.62,370.59 177.65,369.74 177.67,368.87 177.7,367.97 177.72,367.05 177.74,366.11 177.77,365.15 177.79,364.16 177.82,363.14 177.84,362.1 177.86,361.02 177.89,359.92 177.91,358.79 177.94,357.62 177.96,356.42 177.98,355.19 178.01,353.92 178.03,352.61 178.05,351.26 178.08,349.87 178.1,348.44 178.13,346.96 178.15,345.43 178.17,343.85 178.2,342.22 178.22,340.54 178.25,338.79 178.27,336.98 178.29,335.11 178.32,333.17 178.34,331.15 178.37,329.06 178.39,326.89 178.41,324.63 178.44,322.28 178.46,319.84 178.48,317.29 178.51,314.63 178.53,311.85 178.56,308.95 178.58,305.92 178.6,302.74 178.63,299.41 178.65,295.92 178.68,292.25 178.7,288.39 178.72,284.32 178.75,280.03 178.77,275.5 178.8,270.7 178.82,265.62 178.84,260.23 178.87,254.49 178.89,248.38 178.91,241.85 178.94,234.87 178.96,227.37 178.99,219.32 179.01,210.63 179.03,206.7" fill="none" stroke="#8080cc" stroke-width="1.5" stroke-linejoin="round" stroke-linecap="round" />
<polyline points="180.23,206.7 180.23,214.98 180.25,223.67 180.28,231.72 180.3,239.22 180.32,246.2 180.35,252.73 180.37,258.84 180.4,264.58 180.42,269.97 180.44,275.05 180.47,279.85 180.49,284.38 180.52,288.67 180.54,292.74 180.56,296.6 180.59,300.27 180.61,303.77 180.63,307.09 180.66,310.27 180.68,313.31 180.71,316.21 180.73,318.98 180.75,321.64 180.78,324.19 180.8,326.64 180.83,328.98 180.85,331.24 180.87,333.41 180.9,335.51 180.92,337.52 180.95,339.46 180.97,341.33 180.99,343.14 181.02,344.89 181.04,346.57 181.06,348.21 181.09,349.78 181.11,351.31 181.14,352.79 181.16,354.23 181.18,355.62 181.21,356.96 181.23,358.27 181.26,359.54 181.28,360.78 181.3,361.97 181.33,363.14 181.35,364.27 181.38,365.37 181.4,366.45 181.42,367.49 181.45,368.51 181.47,369.5 181.49,370.46 181.52,371.4 181.54,372.32 181.57,373.22 181.59,374.09 181.61,374.94 181.64,375.78 181.66,376.59 181.69,377.38 181.71,378.16 181.73,378.92 181.76,379.66 181.78,380.38 181.81,381.09 181.83,381.79 181.85,382.46 181.88,383.13 181.9,383.78 181.92,384.42 181.95,385.04 181.97,385.65 182,386.25 182.02,386.84 182.04,387.42 182.07,387.98 182.09,388.53 182.12,389.08 182.14,389.61 182.16,390.13 182.19,390.64 182.21,391.15 182.24,391.64 182.26,392.13 182.28,392.6 182.31,393.07 182.33,393.53 182.35,393.98 182.38,394.43 182.4,394.86 182.43,395.29 182.45,395.72 182.47,396.13 182.5,396.54 182.52,396.94 182.55,397.33 182.57,397.72 182.59,398.1 182.62,398.48 182.92,402.72 183.21,406.25 183.51,409.24 183.81,411.81 184.11,414.04 184.41,415.98 184.71,417.7 185.01,419.23 185.31,420.6 185.6,421.83 185.9,422.94 186.2,423.96 186.5,424.88 186.8,425.73 187.1,426.51 187.4,427.23 187.69,427.9 187.99,428.52 188.29,429.1 188.59,429.63 188.89,430.14 189.19,430.61 189.49,431.05 189.78,431.47 190.08,431.87 190.38,432.24 190.68,432.59 190.98,432.92 191.28,433.24 191.58,433.54 191.88,433.83 192.17,434.1 192.47,434.36 192.77,434.61 193.07,434.84 193.37,435.07 193.67,435.29 193.97,435.49 194.26,435.69 194.56,435.88 194.86,436.07 195.16,436.25 195.46,436.42 195.76,436.58 196.06,436.74 196.35,436.89 196.65,437.04 196.95,437.18 197.25,437.32 197.55,437.45 197.85,437.58 198.15,437.7 198.45,437.82 198.74,437.94 199.04,438.05 199.34,438.16 199.64,438.27 199.94,438.37 200.24,438.47 200.54,438.57 200.83,438.66 201.13,438.75 201.43,438.84 201.73,438.93 202.03,439.01 202.33,439.09 202.63,439.17 202.92,439.25 203.22,439.33 203.52,439.4 203.82,439.48 204.12,439.55 204.42,439.62 204.72,439.68 205.02,439.75 205.31,439.81 205.61,439.88 205.91,439.94 206.21,440 206.51,440.06 206.81,440.11 207.11,440.17 207.4,440.22 207.7,440.28 208,440.33 208.3,440.38 208.6,440.43 208.9,440.48 209.2,440.53 209.49,440.58 209.79,440.62 210.09,440.67 210.39,440.71 210.69,440.76 210.99,440.8 211.29,440.84 211.59,440.88 211.88,440.92 212.18,440.96 212.48,441 212.78,441.04 213.08,441.08 213.38,441.12 213.68,441.15 213.97,441.19 214.27,441.22 214.57,441.26 214.87,441.29 215.17,441.33 215.47,441.36 215.77,441.39 216.06,441.42 216.36,441.45 216.66,441.49 216.96,441.52 217.26,441.55 217.56,441.57 217.86,441.6 218.16,441.63 218.45,441.66 218.75,441.69 219.05,441.71 219.35,441.74 219.65,441.77 219.95,441.79 220.25,441.82 220.54,441.84 220.84,441.87 221.14,441.89 221.44,441.92 221.74,441.94 222.04,441.97 222.34,441.99 222.63,442.01 222.93,442.03 223.23,442.06 223.53,442.08 223.83,442.1 224.13,442.12 224.43,442.14 224.73,442.16 225.02,442.18 225.32,442.2 225.62,442.22 225.92,442.24 226.22,442.26 226.52,442.28 226.82,442.3 227.11,442.32 227.41,442.34 227.71,442.36 228.01,442.37 228.31,442.39 228.61,442.41 228.91,442.43 229.2,442.44 229.5,442.46 229.8,442.48 230.1,442.49 230.4,442.51 230.7,442.53 231,442.54 231.3,442.56 231.59,442.57 231.89,442.59 232.19,442.6 232.49,442.62 232.79,442.63 233.09,442.65 233.39,442.66 233.68,442.68 233.98,442.69 234.28,442.71 234.58,442.72 234.88,442.73 235.18,442.75 235.48,442.76 235.77,442.77 236.07,442.79 236.37,442.8 236.67,442.81 236.97,442.83 237.27,442.84 237.57,442.85 237.87,442.86 238.16,442.88 238.46,442.89 238.76,442.9 239.06,442.91 239.36,442.92 239.66,442.94 239.96,442.95 240.25,442.96 240.55,442.97 240.85,442.98 241.15,442.99 241.45,443 241.75,443.01 242.05,443.03 242.34,443.04 242.64,443.05 242.94,443.06 243.24,443.07 243.54,443.08 243.84,443.09 244.14,443.1 244.44,443.11 244.73,443.12 245.03,443.13 245.33,443.14 245.63,443.15 245.93,443.16 246.23,443.17 246.53,443.18 246.82,443.19 247.12,443.2 247.42,443.21 247.72,443.22 248.02,443.22 248.32,443.23 248.62,443.24 248.91,443.25 249.21,443.26 249.51,443.27 249.81,443.28 250.11,443.29 250.41,443.3 250.71,443.31 251.01,443.32 251.3,443.32 251.6,443.33 251.9,443.34 252.2,443.35 252.5,443.36 252.8,443.37 253.1,443.38 253.39,443.38 253.69,443.39 253.99,443.4 254.29,443.41 254.59,443.42 254.89,443.43 255.19,443.43 255.48,443.44 255.78,443.45 256.08,443.46 256.38,443.47 256.68,443.47 256.98,443.48 257.28,443.49 257.58,443.5 257.87,443.51 258.17,443.51 258.47,443.52 258.77,443.53 259.07,443.54 259.37,443.55 259.67,443.55 259.96,443.56 260.26,443.57 260.56,443.58 260.86,443.58 261.16,443.59 261.46,443.6 261.76,443.6 262.05,443.61 262.35,443.62 262.65,443.63 262.95,443.63 263.25,443.64 263.55,443.65 263.85,443.66 264.15,443.66 264.44,443.67 264.74,443.68 265.04,443.68 265.34,443.69 265.64,443.7 265.94,443.7 266.24,443.71 266.53,443.72 266.83,443.72 267.13,443.73 267.43,443.74 267.73,443.74 268.03,443.75 268.33,443.76 268.62,443.76 268.92,443.77 269.22,443.78 269.52,443.78 269.82,443.79 270.12,443.8 270.42,443.8 270.72,443.81 271.01,443.82 271.31,443.82 271.61,443.83 271.91,443.83 272.21,443.84 272.51,443.85 272.81,443.85 273.1,443.86 273.4,443.87 273.7,443.87 274,443.88 274.3,443.88 274.6,443.89 274.9,443.9 275.19,443.9 275.49,443.91 275.79,443.91 276.09,443.92 276.39,443.92 276.69,443.93 276.99,443.94 277.29,443.94 277.58,443.95 277.88,443.95 278.18,443.96 278.48,443.96 278.78,443.97 279.08,443.98 279.38,443.98 279.67,443.99 279.97,443.99 280.27,444 280.57,444 280.87,444.01 281.17,444.01 281.47,444.02 281.76,444.03 282.06,444.03 282.36,444.04 282.66,444.04 282.96,444.05 283.26,444.05 283.56,444.06 283.86,444.06 284.15,444.07 284.45,444.07 284.75,444.08 285.05,444.08 285.35,444.09 285.65,444.09 285.95,444.1 286.24,444.1 286.54,444.11 286.84,444.11 287.14,444.12 287.44,444.12 287.74,444.13 288.04,444.13 288.33,444.14 288.63,444.14 288.93,444.15 289.23,444.15 289.53,444.16 289.83,444.16 290.13,444.17 290.43,444.17 290.72,444.18 291.02,444.18 291.32,444.19 291.62,444.19 291.92,444.2 292.22,444.2 292.52,444.21 292.81,444.21 293.11,444.21 293.41,444.22 293.71,444.22 294.01,444.23 294.31,444.23 294.61,444.24 294.9,444.24 295.2,444.25 295.5,444.25 295.8,444.25 296.1,444.26 296.4,444.26 296.7,444.27 297,444.27 297.29,444.28 297.59,444.28 297.89,444.29 298.19,444.29 298.49,444.29 298.79,444.3 299.09,444.3 299.38,444.31 299.68,444.31 299.98,444.32 300.28,444.32 300.58,444.32 300.88,444.33 301.18,444.33 301.47,444.34 301.77,444.34 302.07,444.34 302.37,444.35 302.67,444.35 302.97,444.36 303.27,444.36 303.57,444.36 303.86,444.37 304.16,444.37 304.46,444.38 304.76,444.38 305.06,444.38 305.36,444.39 305.66,444.39 305.95,444.4 306.25,444.4 306.55,444.4 306.85,444.41 307.15,444.41 307.45,444.42 307.75,444.42 308.04,444.42 308.34,444.43 308.64,444.43 308.94,444.43 309.24,444.44 309.54,444.44 309.84,444.45 310.14,444.45 310.43,444.45 310.73,444.46 311.03,444.46 311.33,444.46 311.63,444.47 311.93,444.47 312.23,444.48 312.52,444.48 312.82,444.48 313.12,444.49 313.42,444.49 313.72,444.49 314.02,444.5 314.32,444.5 314.61,444.5 314.91,444.51 315.21,444.51 315.51,444.51 315.81,444.52 316.11,444.52 316.41,444.53 316.71,444.53 317,444.53 317.3,444.54 317.6,444.54 317.9,444.54 318.2,444.55 318.5,444.55 318.8,444.55 319.09,444.56 319.39,444.56 319.69,444.56 319.99,444.57 320.29,444.57 320.59,444.57 320.89,444.58 321.18,444.58 321.48,444.58 321.78,444.59 322.08,444.59 322.38,444.59 322.68,444.59 322.98,444.6 323.28,444.6 323.57,444.6 323.87,444.61 324.17,444.61 324.47,444.61 324.77,444.62 325.07,444.62 325.37,444.62 325.66,444.63 325.96,444.63 326.26,444.63 326.56,444.64 326.86,444.64 327.16,444.64 327.46,444.65 327.75,444.65 328.05,444.65 328.35,444.65 328.65,444.66 328.95,444.66 329.25,444.66 329.55,444.67 329.85,444.67 330.14,444.67 330.44,444.68 330.74,444.68 331.04,444.68 331.34,444.68" fill="none" stroke="#8080cc" stroke-width="1.5" stroke-linejoin="round" stroke-linecap="round" />
<line x1="65.60" y1="443.2" x2="328.40" y2="443.2" stroke="#3a3a48" stroke-width="1.2"/>
<circle cx="77.55" cy="417.98" r="4.2" fill="#0c0c8c"/>
<circle cx="137.27" cy="281.87" r="4.2" fill="#0c0c8c"/>
<circle cx="155.19" cy="430.51" r="4.2" fill="#0c0c8c"/>
<circle cx="167.14" cy="415.50" r="4.2" fill="#0c0c8c"/>
<circle cx="179.08" cy="428.50" r="4.2" fill="#0c0c8c"/>
<circle cx="185.05" cy="435.41" r="4.2" fill="#0c0c8c"/>
<circle cx="191.03" cy="434.17" r="4.2" fill="#0c0c8c"/>
<circle cx="197.00" cy="437.42" r="4.2" fill="#0c0c8c"/>
<circle cx="202.97" cy="442.68" r="4.2" fill="#0c0c8c"/>
<circle cx="226.86" cy="443.39" r="4.2" fill="#0c0c8c"/>
<circle cx="256.73" cy="444.40" r="4.2" fill="#0c0c8c"/>
</g>
<line x1="77.55" y1="466.3" x2="77.55" y2="454.3" stroke="#2e2e2e" stroke-width="1.1"/>
<line x1="77.55" y1="265.8" x2="77.55" y2="277.8" stroke="#2e2e2e" stroke-width="1.1"/>
<line x1="137.27" y1="466.3" x2="137.27" y2="454.3" stroke="#2e2e2e" stroke-width="1.1"/>
<line x1="137.27" y1="265.8" x2="137.27" y2="277.8" stroke="#2e2e2e" stroke-width="1.1"/>
<line x1="197" y1="466.3" x2="197" y2="454.3" stroke="#2e2e2e" stroke-width="1.1"/>
<line x1="197" y1="265.8" x2="197" y2="277.8" stroke="#2e2e2e" stroke-width="1.1"/>
<line x1="256.73" y1="466.3" x2="256.73" y2="454.3" stroke="#2e2e2e" stroke-width="1.1"/>
<line x1="256.73" y1="265.8" x2="256.73" y2="277.8" stroke="#2e2e2e" stroke-width="1.1"/>
<line x1="316.45" y1="466.3" x2="316.45" y2="454.3" stroke="#2e2e2e" stroke-width="1.1"/>
<line x1="316.45" y1="265.8" x2="316.45" y2="277.8" stroke="#2e2e2e" stroke-width="1.1"/>
<line x1="107.41" y1="466.3" x2="107.41" y2="460.3" stroke="#2e2e2e" stroke-width="1.1"/>
<line x1="107.41" y1="265.8" x2="107.41" y2="271.8" stroke="#2e2e2e" stroke-width="1.1"/>
<line x1="167.14" y1="466.3" x2="167.14" y2="460.3" stroke="#2e2e2e" stroke-width="1.1"/>
<line x1="167.14" y1="265.8" x2="167.14" y2="271.8" stroke="#2e2e2e" stroke-width="1.1"/>
<line x1="226.86" y1="466.3" x2="226.86" y2="460.3" stroke="#2e2e2e" stroke-width="1.1"/>
<line x1="226.86" y1="265.8" x2="226.86" y2="271.8" stroke="#2e2e2e" stroke-width="1.1"/>
<line x1="286.59" y1="466.3" x2="286.59" y2="460.3" stroke="#2e2e2e" stroke-width="1.1"/>
<line x1="286.59" y1="265.8" x2="286.59" y2="271.8" stroke="#2e2e2e" stroke-width="1.1"/>
<line x1="65.6" y1="443.1" x2="77.6" y2="443.1" stroke="#2e2e2e" stroke-width="1.1"/>
<line x1="328.4" y1="443.1" x2="316.4" y2="443.1" stroke="#2e2e2e" stroke-width="1.1"/>
<line x1="65.6" y1="413.55" x2="77.6" y2="413.55" stroke="#2e2e2e" stroke-width="1.1"/>
<line x1="328.4" y1="413.55" x2="316.4" y2="413.55" stroke="#2e2e2e" stroke-width="1.1"/>
<line x1="65.6" y1="384" x2="77.6" y2="384" stroke="#2e2e2e" stroke-width="1.1"/>
<line x1="328.4" y1="384" x2="316.4" y2="384" stroke="#2e2e2e" stroke-width="1.1"/>
<line x1="65.6" y1="354.45" x2="77.6" y2="354.45" stroke="#2e2e2e" stroke-width="1.1"/>
<line x1="328.4" y1="354.45" x2="316.4" y2="354.45" stroke="#2e2e2e" stroke-width="1.1"/>
<line x1="65.6" y1="324.9" x2="77.6" y2="324.9" stroke="#2e2e2e" stroke-width="1.1"/>
<line x1="328.4" y1="324.9" x2="316.4" y2="324.9" stroke="#2e2e2e" stroke-width="1.1"/>
<line x1="65.6" y1="295.35" x2="77.6" y2="295.35" stroke="#2e2e2e" stroke-width="1.1"/>
<line x1="328.4" y1="295.35" x2="316.4" y2="295.35" stroke="#2e2e2e" stroke-width="1.1"/>
<line x1="65.6" y1="265.8" x2="77.6" y2="265.8" stroke="#2e2e2e" stroke-width="1.1"/>
<line x1="328.4" y1="265.8" x2="316.4" y2="265.8" stroke="#2e2e2e" stroke-width="1.1"/>
<line x1="65.6" y1="457.87" x2="71.6" y2="457.87" stroke="#2e2e2e" stroke-width="1.1"/>
<line x1="328.4" y1="457.87" x2="322.4" y2="457.87" stroke="#2e2e2e" stroke-width="1.1"/>
<line x1="65.6" y1="428.32" x2="71.6" y2="428.32" stroke="#2e2e2e" stroke-width="1.1"/>
<line x1="328.4" y1="428.32" x2="322.4" y2="428.32" stroke="#2e2e2e" stroke-width="1.1"/>
<line x1="65.6" y1="398.77" x2="71.6" y2="398.77" stroke="#2e2e2e" stroke-width="1.1"/>
<line x1="328.4" y1="398.77" x2="322.4" y2="398.77" stroke="#2e2e2e" stroke-width="1.1"/>
<line x1="65.6" y1="369.22" x2="71.6" y2="369.22" stroke="#2e2e2e" stroke-width="1.1"/>
<line x1="328.4" y1="369.22" x2="322.4" y2="369.22" stroke="#2e2e2e" stroke-width="1.1"/>
<line x1="65.6" y1="339.67" x2="71.6" y2="339.67" stroke="#2e2e2e" stroke-width="1.1"/>
<line x1="328.4" y1="339.67" x2="322.4" y2="339.67" stroke="#2e2e2e" stroke-width="1.1"/>
<line x1="65.6" y1="310.12" x2="71.6" y2="310.12" stroke="#2e2e2e" stroke-width="1.1"/>
<line x1="328.4" y1="310.12" x2="322.4" y2="310.12" stroke="#2e2e2e" stroke-width="1.1"/>
<line x1="65.6" y1="280.57" x2="71.6" y2="280.57" stroke="#2e2e2e" stroke-width="1.1"/>
<line x1="328.4" y1="280.57" x2="322.4" y2="280.57" stroke="#2e2e2e" stroke-width="1.1"/>
<rect x="65.6" y="265.8" width="262.8" height="200.5" fill="none" stroke="#2e2e2e" stroke-width="1.1"/>
<text transform="translate(77.55 489.9) scale(1 1.07)" font-size="12.9" text-anchor="middle" fill="#000" font-weight="normal">-20</text>
<text transform="translate(137.27 489.9) scale(1 1.07)" font-size="12.9" text-anchor="middle" fill="#000" font-weight="normal">-10</text>
<text transform="translate(197 489.9) scale(1 1.07)" font-size="12.9" text-anchor="middle" fill="#000" font-weight="normal">0</text>
<text transform="translate(256.73 489.9) scale(1 1.07)" font-size="12.9" text-anchor="middle" fill="#000" font-weight="normal">10</text>
<text transform="translate(316.45 489.9) scale(1 1.07)" font-size="12.9" text-anchor="middle" fill="#000" font-weight="normal">20</text>
<text transform="translate(52.2 447.7) scale(1 1.07)" font-size="12.9" text-anchor="end" fill="#000" font-weight="normal">0</text>
<text transform="translate(52.2 418.15) scale(1 1.07)" font-size="12.9" text-anchor="end" fill="#000" font-weight="normal">500</text>
<text transform="translate(52.2 388.6) scale(1 1.07)" font-size="12.9" text-anchor="end" fill="#000" font-weight="normal">1000</text>
<text transform="translate(52.2 359.05) scale(1 1.07)" font-size="12.9" text-anchor="end" fill="#000" font-weight="normal">1500</text>
<text transform="translate(52.2 329.5) scale(1 1.07)" font-size="12.9" text-anchor="end" fill="#000" font-weight="normal">2000</text>
<text transform="translate(52.2 299.95) scale(1 1.07)" font-size="12.9" text-anchor="end" fill="#000" font-weight="normal">2500</text>
<text transform="translate(52.2 270.4) scale(1 1.07)" font-size="12.9" text-anchor="end" fill="#000" font-weight="normal">3000</text>
<text transform="translate(197.2 511.6) scale(1 1.07)" font-size="13.2" text-anchor="middle" fill="#000" font-weight="normal">Bias voltage (mV)</text>
<text x="14.2" y="365.3" font-size="13.8" text-anchor="middle" fill="#000" font-weight="normal" transform="rotate(-90 14.2 365.3)">bTMS (%)</text>
<text transform="translate(5.9 270) scale(1 1.11)" font-size="12.9" text-anchor="start" fill="#000" font-weight="bold">c</text>
<circle cx="223.8" cy="290.8" r="4.2" fill="#0c0c8c"/>
<polyline points="215.9,306.3 231.1,306.3" fill="none" stroke="#8080cc" stroke-width="1.5" stroke-linejoin="round" stroke-linecap="round" />
<text transform="translate(235.2 295.4) scale(1 1.07)" font-size="13.2" text-anchor="start" fill="#000" font-weight="normal">Measurement</text>
<text transform="translate(235.2 310.9) scale(1 1.07)" font-size="13.2" text-anchor="start" fill="#000" font-weight="normal">From model</text>
<g clip-path="url(#cd)">
<polyline points="418.3,336.92 430.22,342.84 489.81,456.31 507.69,344.76 519.6,353.48 531.52,351.88 537.48,346.84 543.44,376.03 549.4,379.62 549.7,396.65 555.36,285.99 579.2,357.55 608.99,293.11 680.5,319.57" fill="none" stroke="#e42424" stroke-width="1.8" stroke-linejoin="round" stroke-linecap="round" />
<polyline points="418.3,398.89 430.22,398.01 489.81,420 507.69,401.93 519.6,404.89 531.52,407.53 537.48,398.01 543.44,398.41 549.4,402.01 549.7,411.61 555.36,388.98 579.2,403.21 608.99,383.3 680.5,386.34" fill="none" stroke="#16168c" stroke-width="1.8" stroke-linejoin="round" stroke-linecap="round" />
<polygon points="425.72,340.24 434.72,340.24 430.22,348.04" fill="#fff" stroke="#e42424" stroke-width="0.8"/>
<polygon points="485.31,453.7 494.31,453.7 489.81,461.5" fill="#fff" stroke="#e42424" stroke-width="0.8"/>
<polygon points="503.19,342.16 512.19,342.16 507.69,349.96" fill="#fff" stroke="#e42424" stroke-width="0.8"/>
<polygon points="515.1,350.88 524.1,350.88 519.6,358.68" fill="#fff" stroke="#e42424" stroke-width="0.8"/>
<polygon points="527.02,349.28 536.02,349.28 531.52,357.08" fill="#fff" stroke="#e42424" stroke-width="0.8"/>
<polygon points="532.98,344.24 541.98,344.24 537.48,352.04" fill="#fff" stroke="#e42424" stroke-width="0.8"/>
<polygon points="538.94,373.43 547.94,373.43 543.44,381.23" fill="#fff" stroke="#e42424" stroke-width="0.8"/>
<polygon points="544.9,377.02 553.9,377.02 549.4,384.82" fill="#fff" stroke="#e42424" stroke-width="0.8"/>
<polygon points="545.2,394.05 554.2,394.05 549.7,401.85" fill="#fff" stroke="#e42424" stroke-width="0.8"/>
<polygon points="550.86,283.39 559.86,283.39 555.36,291.19" fill="#fff" stroke="#e42424" stroke-width="0.8"/>
<polygon points="574.7,354.95 583.7,354.95 579.2,362.75" fill="#fff" stroke="#e42424" stroke-width="0.8"/>
<polygon points="604.49,290.51 613.49,290.51 608.99,298.31" fill="#fff" stroke="#e42424" stroke-width="0.8"/>
<polygon points="425.62,400.71 434.82,400.71 430.22,392.61" fill="#1a14a8" stroke="#1a14a8" stroke-width="0.3"/>
<polygon points="485.21,422.7 494.41,422.7 489.81,414.6" fill="#1a14a8" stroke="#1a14a8" stroke-width="0.3"/>
<polygon points="503.09,404.63 512.29,404.63 507.69,396.53" fill="#1a14a8" stroke="#1a14a8" stroke-width="0.3"/>
<polygon points="515,407.59 524.2,407.59 519.6,399.49" fill="#1a14a8" stroke="#1a14a8" stroke-width="0.3"/>
<polygon points="526.92,410.23 536.12,410.23 531.52,402.13" fill="#1a14a8" stroke="#1a14a8" stroke-width="0.3"/>
<polygon points="532.88,400.71 542.08,400.71 537.48,392.61" fill="#1a14a8" stroke="#1a14a8" stroke-width="0.3"/>
<polygon points="538.84,401.11 548.04,401.11 543.44,393.01" fill="#1a14a8" stroke="#1a14a8" stroke-width="0.3"/>
<polygon points="544.8,404.71 554,404.71 549.4,396.61" fill="#1a14a8" stroke="#1a14a8" stroke-width="0.3"/>
<polygon points="545.1,414.31 554.3,414.31 549.7,406.21" fill="#1a14a8" stroke="#1a14a8" stroke-width="0.3"/>
<polygon points="550.76,391.68 559.96,391.68 555.36,383.58" fill="#1a14a8" stroke="#1a14a8" stroke-width="0.3"/>
<polygon points="574.6,405.91 583.8,405.91 579.2,397.81" fill="#1a14a8" stroke="#1a14a8" stroke-width="0.3"/>
<polygon points="604.39,386 613.59,386 608.99,377.9" fill="#1a14a8" stroke="#1a14a8" stroke-width="0.3"/>
</g>
<line x1="549.5" y1="266.4" x2="549.5" y2="466.3" stroke="#3a3a3a" stroke-width="1.2"/>
<line x1="430.22" y1="466.3" x2="430.22" y2="454.3" stroke="#2e2e2e" stroke-width="1.1"/>
<line x1="430.22" y1="266.4" x2="430.22" y2="278.4" stroke="#2e2e2e" stroke-width="1.1"/>
<line x1="489.81" y1="466.3" x2="489.81" y2="454.3" stroke="#2e2e2e" stroke-width="1.1"/>
<line x1="489.81" y1="266.4" x2="489.81" y2="278.4" stroke="#2e2e2e" stroke-width="1.1"/>
<line x1="549.4" y1="466.3" x2="549.4" y2="454.3" stroke="#2e2e2e" stroke-width="1.1"/>
<line x1="549.4" y1="266.4" x2="549.4" y2="278.4" stroke="#2e2e2e" stroke-width="1.1"/>
<line x1="608.99" y1="466.3" x2="608.99" y2="454.3" stroke="#2e2e2e" stroke-width="1.1"/>
<line x1="608.99" y1="266.4" x2="608.99" y2="278.4" stroke="#2e2e2e" stroke-width="1.1"/>
<line x1="668.58" y1="466.3" x2="668.58" y2="454.3" stroke="#2e2e2e" stroke-width="1.1"/>
<line x1="668.58" y1="266.4" x2="668.58" y2="278.4" stroke="#2e2e2e" stroke-width="1.1"/>
<line x1="460.01" y1="466.3" x2="460.01" y2="460.3" stroke="#2e2e2e" stroke-width="1.1"/>
<line x1="460.01" y1="266.4" x2="460.01" y2="272.4" stroke="#2e2e2e" stroke-width="1.1"/>
<line x1="519.6" y1="466.3" x2="519.6" y2="460.3" stroke="#2e2e2e" stroke-width="1.1"/>
<line x1="519.6" y1="266.4" x2="519.6" y2="272.4" stroke="#2e2e2e" stroke-width="1.1"/>
<line x1="579.2" y1="466.3" x2="579.2" y2="460.3" stroke="#2e2e2e" stroke-width="1.1"/>
<line x1="579.2" y1="266.4" x2="579.2" y2="272.4" stroke="#2e2e2e" stroke-width="1.1"/>
<line x1="638.79" y1="466.3" x2="638.79" y2="460.3" stroke="#2e2e2e" stroke-width="1.1"/>
<line x1="638.79" y1="266.4" x2="638.79" y2="272.4" stroke="#2e2e2e" stroke-width="1.1"/>
<line x1="418.3" y1="466.3" x2="430.3" y2="466.3" stroke="#2e2e2e" stroke-width="1.1"/>
<line x1="680.5" y1="466.3" x2="668.5" y2="466.3" stroke="#2e2e2e" stroke-width="1.1"/>
<line x1="418.3" y1="386.34" x2="430.3" y2="386.34" stroke="#2e2e2e" stroke-width="1.1"/>
<line x1="680.5" y1="386.34" x2="668.5" y2="386.34" stroke="#2e2e2e" stroke-width="1.1"/>
<line x1="418.3" y1="306.38" x2="430.3" y2="306.38" stroke="#2e2e2e" stroke-width="1.1"/>
<line x1="680.5" y1="306.38" x2="668.5" y2="306.38" stroke="#2e2e2e" stroke-width="1.1"/>
<line x1="418.3" y1="426.32" x2="424.3" y2="426.32" stroke="#2e2e2e" stroke-width="1.1"/>
<line x1="680.5" y1="426.32" x2="674.5" y2="426.32" stroke="#2e2e2e" stroke-width="1.1"/>
<line x1="418.3" y1="346.36" x2="424.3" y2="346.36" stroke="#2e2e2e" stroke-width="1.1"/>
<line x1="680.5" y1="346.36" x2="674.5" y2="346.36" stroke="#2e2e2e" stroke-width="1.1"/>
<rect x="418.3" y="266.4" width="262.2" height="199.9" fill="none" stroke="#2e2e2e" stroke-width="1.1"/>
<text transform="translate(430.22 489.9) scale(1 1.07)" font-size="12.9" text-anchor="middle" fill="#000" font-weight="normal">-20</text>
<text transform="translate(489.81 489.9) scale(1 1.07)" font-size="12.9" text-anchor="middle" fill="#000" font-weight="normal">-10</text>
<text transform="translate(549.4 489.9) scale(1 1.07)" font-size="12.9" text-anchor="middle" fill="#000" font-weight="normal">0</text>
<text transform="translate(608.99 489.9) scale(1 1.07)" font-size="12.9" text-anchor="middle" fill="#000" font-weight="normal">10</text>
<text transform="translate(668.58 489.9) scale(1 1.07)" font-size="12.9" text-anchor="middle" fill="#000" font-weight="normal">20</text>
<text transform="translate(404.6 470.9) scale(1 1.07)" font-size="12.9" text-anchor="end" fill="#000" font-weight="normal">0</text>
<text transform="translate(404.6 390.94) scale(1 1.07)" font-size="12.9" text-anchor="end" fill="#000" font-weight="normal">10</text>
<text transform="translate(404.6 310.98) scale(1 1.07)" font-size="12.9" text-anchor="end" fill="#000" font-weight="normal">20</text>
<text transform="translate(549.7 511.2) scale(1 1.07)" font-size="13.2" text-anchor="middle" fill="#000" font-weight="normal">Bias voltage (mV)</text>
<text x="380.8" y="366.1" font-size="13.2" text-anchor="middle" fill="#000" font-weight="normal" transform="rotate(-90 380.8 366.1)">SΔT (μV)</text>
<text transform="translate(371.9 269.8) scale(1 1.11)" font-size="12.9" text-anchor="start" fill="#000" font-weight="bold">d</text>
<text transform="translate(632.7 322.5) scale(1 1.07)" font-size="13.2" text-anchor="start" fill="#e02828" font-weight="normal">AP</text>
<text transform="translate(637.1 380.4) scale(1 1.07)" font-size="13.2" text-anchor="start" fill="#10108a" font-weight="normal">P</text>
</svg>
</body></html>
